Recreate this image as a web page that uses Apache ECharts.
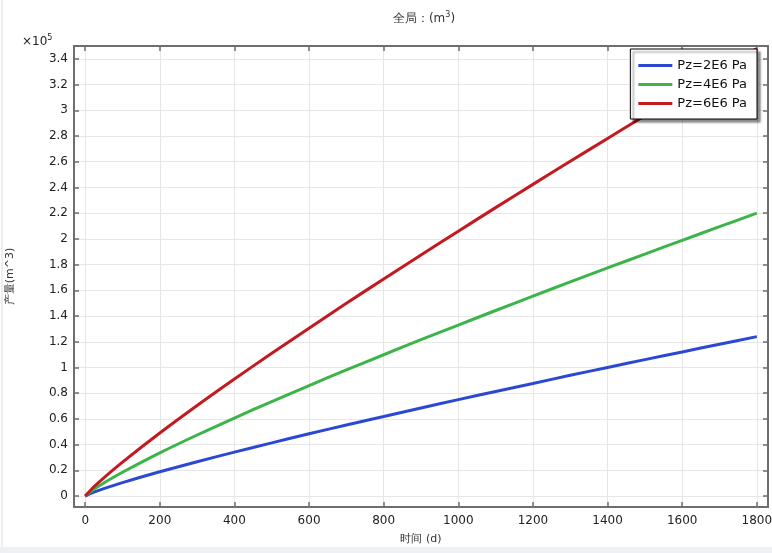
<!DOCTYPE html>
<html>
<head>
<meta charset="utf-8">
<script src="https://cdn.jsdelivr.net/npm/echarts@6/dist/echarts.min.js"></script>
<style>html,body{margin:0;padding:0;background:#fff;}#c{width:772px;height:553px;}</style>
</head>
<body>
<div id="c"></div>
<script>
// time (d)
const days = [0, 20, 50, 100, 200, 300, 400, 500, 600, 700, 800, 900, 1000, 1100, 1200, 1300, 1400, 1500, 1600, 1700, 1800];
// production (m^3)
const pz2 = [0, 2600, 5800, 10500, 18900, 26700, 34200, 41400, 48400, 55300, 61900, 68500, 75000, 81300, 87600, 93900, 100000, 106100, 112100, 118100, 124000];
const pz4 = [0, 4700, 10200, 18500, 33600, 47500, 60700, 73500, 85900, 98100, 109900, 121600, 133000, 144300, 155500, 166500, 177400, 188200, 198900, 209500, 220000];
const pz6 = [0, 6300, 14200, 26400, 49000, 70400, 91000, 111000, 130500, 149900, 168800, 187500, 206000, 224300, 242400, 260300, 278100, 295800, 313300, 330600, 348000];
const seriesNames = ['Pz=2E6 Pa', 'Pz=4E6 Pa', 'Pz=6E6 Pa'];
const xTicks = [0, 200, 400, 600, 800, 1000, 1200, 1400, 1600, 1800];
const yTicks = [0, 20000, 40000, 60000, 80000, 100000, 120000, 140000, 160000, 180000, 200000, 220000, 240000, 260000, 280000, 300000, 320000, 340000];

const colors = ['#2b48d3', '#3cb44a', '#c4191f'];
const chart = echarts.init(document.getElementById('c'));
const font = 'DejaVu Sans';
const axisColor = '#6e6e6e';
const mk = (arr) => days.map((d, i) => [d, arr[i]]);

const xBase = {
  type: 'value', min: -30, max: 1830,
  axisLine: {show: true, onZero: false, lineStyle: {color: axisColor, width: 2}},
  axisTick: {show: true, inside: true, length: 5, customValues: xTicks, lineStyle: {color: axisColor, width: 1.5}},
  splitLine: {show: false}
};
const yBase = {
  type: 'value', min: -8500, max: 350000,
  axisLine: {show: true, onZero: false, lineStyle: {color: axisColor, width: 2}},
  axisTick: {show: true, inside: true, length: 5, customValues: yTicks, lineStyle: {color: axisColor, width: 1.5}},
  splitLine: {show: false}
};

const gridLineData = xTicks.map(v => ({xAxis: v})).concat(yTicks.map(v => ({yAxis: v})));

chart.setOption({
  animation: false,
  backgroundColor: '#fff',
  textStyle: {fontFamily: font},
  title: {
    text: '全局：(m{sup|3})',
    left: 419, top: 6, textAlign: 'center',
    textStyle: {fontFamily: font, fontSize: 12, fontWeight: 'normal', color: '#333',
      rich: {sup: {fontSize: 8, verticalAlign: 'top', padding: [0, 0, 7, 0], color: '#333', fontFamily: font}}}
  },
  legend: {
    data: seriesNames,
    orient: 'vertical',
    right: 15, top: 49, z: 10,
    backgroundColor: '#fff',
    borderColor: '#000', borderWidth: 1,
    shadowColor: 'rgba(0,0,0,0.45)', shadowBlur: 2, shadowOffsetX: 3, shadowOffsetY: 3,
    padding: [10, 10, 9, 8],
    itemWidth: 34, itemHeight: 3, itemGap: 6,
    icon: 'rect',
    textStyle: {fontFamily: font, fontSize: 13, color: '#111'}
  },
  grid: {left: 74, right: 4, top: 46, bottom: 46, containLabel: false, outerBoundsMode: 'none'},
  xAxis: [
    Object.assign({}, xBase, {
      position: 'bottom',
      name: '时间 (d)', nameLocation: 'middle', nameGap: 27,
      nameTextStyle: {fontFamily: font, fontSize: 11, color: '#333'},
      axisLabel: {show: true, customValues: xTicks, margin: 8, fontFamily: font, fontSize: 12, color: '#222',
        formatter: (v) => String(v)}
    }),
    Object.assign({}, xBase, {position: 'top', axisLabel: {show: false}})
  ],
  yAxis: [
    Object.assign({}, yBase, {
      position: 'left',
      name: '产量(m^3)', nameLocation: 'middle', nameGap: 58, nameRotate: 90,
      nameTextStyle: {fontFamily: font, fontSize: 11, color: '#333'},
      axisLabel: {show: true, customValues: yTicks, margin: 6, fontFamily: font, fontSize: 12, color: '#222',
        formatter: (v) => String(Math.round(v / 10000) / 10)}
    }),
    Object.assign({}, yBase, {position: 'right', axisLabel: {show: false}})
  ],
  graphic: [
    {type: 'text', left: 22, top: 34,
      style: {text: '×10{sup|5}', fontFamily: font, fontSize: 12, fill: '#222',
        rich: {sup: {fontSize: 8, verticalAlign: 'top', padding: [0, 0, 7, 0], fontFamily: font}}}},
    {type: 'line', shape: {x1: 2, y1: 0, x2: 2, y2: 553}, style: {stroke: '#dcdcdc', lineWidth: 1}},
    {type: 'rect', shape: {x: 0, y: 547, width: 772, height: 6}, style: {fill: '#eef0f5'}}
  ],
  series: [{
    name: 'grid', type: 'line', data: [], z: 1, silent: true,
    xAxisIndex: 0, yAxisIndex: 0, showSymbol: false,
    markLine: {silent: true, symbol: 'none', animation: false, label: {show: false}, z: 0, zlevel: 0,
      lineStyle: {color: '#e6e6e6', width: 1, type: 'solid'}, emphasis: {disabled: true},
      data: gridLineData}
  }].concat([pz2, pz4, pz6].map((arr, i) => ({
    name: seriesNames[i], type: 'line', data: mk(arr), smooth: 0.3, z: 3,
    xAxisIndex: 0, yAxisIndex: 0,
    showSymbol: false, symbol: 'none',
    lineStyle: {color: colors[i], width: 3},
    itemStyle: {color: colors[i]}
  })))
});
</script>
</body>
</html>
